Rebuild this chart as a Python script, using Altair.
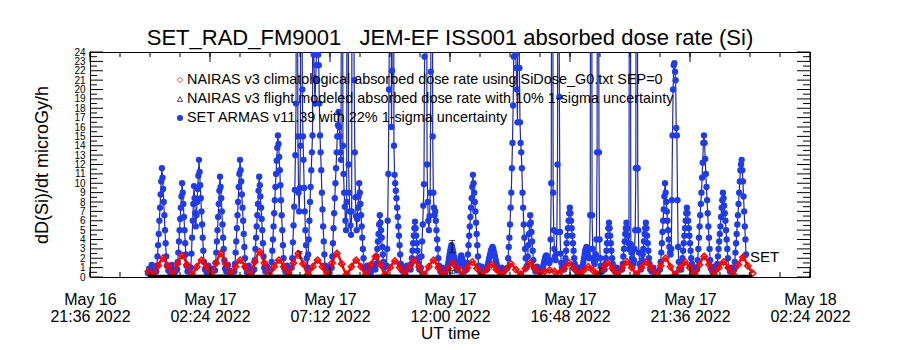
import json
import altair as alt
import pandas as pd

FONT = "Liberation Sans"

TITLE = "SET_RAD_FM9001\u00a0\u00a0 JEM-EF ISS001 absorbed dose rate (Si)"
Y_TITLE = "dD(Si)/dt microGy/h"
X_TITLE = "UT time"

# x axis: minutes since 2022-05-17 00:00 UT
x_tick_minutes = [-144, 144, 432, 720, 1008, 1296, 1584]
x_tick_labels = [["May 16", "21:36 2022"], ["May 17", "02:24 2022"], ["May 17", "07:12 2022"],
                 ["May 17", "12:00 2022"], ["May 17", "16:48 2022"], ["May 17", "21:36 2022"],
                 ["May 18", "02:24 2022"]]
x_minor_ticks = [-144 + 72 * i for i in range(25)]
y_ticks = list(range(25))
y_half_ticks = [i + 0.5 for i in range(24)]

legend_labels = [
    "NAIRAS v3 climatological absorbed dose rate using SiDose_G0.txt SEP=0",
    "NAIRAS v3 flight modeled absorbed dose rate with 10% 1-sigma uncertainty",
    "SET ARMAS v11.39 with 22% 1-sigma uncertainty",
]

# SET ARMAS measured dose rate: (start minute, cadence minutes, values)
blue_segments = [
    (-5, 3, [0.4, 0.9, 0.6, 1.3, 0.7, 0.5]),
    (15, 1.5, [0.6, 1.2, 2.2, 3.4, 4.6, 6.0, 7.4, 8.8, 10.2, 11.6, 10.6, 9.4, 8.0, 6.6, 5.0, 3.6, 2.2, 1.2]),
    (44, 4, [0.7, 0.5, 1.3, 0.8, 0.5]),
    (65, 1.5, [0.8, 1.6, 2.6, 3.8, 5.0, 6.2, 7.4, 8.6, 10.0, 9.0, 7.8, 6.4, 5.0, 3.6, 2.4, 1.2]),
    (90, 3, [0.6, 1.1]),
    (98, 1.5, [1.0, 2.5, 4.2, 6.0, 7.8, 9.7, 8.4, 6.8, 5.4, 6.6, 8.0, 9.4, 10.8, 12.5, 11.2, 9.8, 8.4, 7.0, 5.6, 4.2, 2.8, 1.6]),
    (132, 4, [0.8, 0.5, 1.2, 0.6, 0.9]),
    (156, 1.5, [0.7, 1.5, 2.6, 3.8, 5.0, 6.4, 7.8, 9.2, 10.7, 9.6, 8.4, 7.0, 5.6, 4.2, 3.0, 1.8, 0.9]),
    (183, 4, [0.6, 1.3, 0.7, 0.5]),
    (202.5, 1.5, [0.6, 1.4, 2.6, 3.8, 5.2, 6.6, 8.0, 9.6, 11.0, 12.5, 11.4, 10.2, 8.8, 7.4, 6.0, 4.6, 3.2, 2.0, 1.0]),
    (233, 4, [0.5, 1.2, 0.7, 0.5]),
    (250, 1.5, [0.8, 1.8, 3.0, 4.2, 5.4, 6.6, 7.8, 9.2, 10.7, 9.8, 8.6, 7.4, 6.2, 5.0, 3.6, 2.2, 1.0]),
    (277, 4, [0.6, 1.1, 0.7]),
    (290.5, 1.5, [0.8, 1.6, 2.8, 4.0, 5.4, 6.8, 8.2, 9.6, 11.0, 12.4, 13.8, 15.1, 14.2, 12.8, 11.4, 9.8, 8.2, 6.6, 5.0, 3.4, 2.0, 1.0]),
    (325, 4, [0.6, 1.2, 0.5]),
    (340, 1.5, [1.0, 2.0, 3.7, 5.5, 7.5, 9.3, 13.0, 18.5, 60, 40, 15.0, 9.0, 7.0, 9.5, 14.0, 60, 60, 20.0, 15.0, 12.5, 9.5, 7.0, 5.0, 3.4, 2.0, 1.0]),
    (378, 1.5, [1.0, 2.4, 4.0, 6.0, 8.0, 9.6, 11.4, 13.3, 15.1, 60, 23.7, 21.2, 18.5, 21.0, 22.6, 60, 60, 23.7, 22.6, 18.5, 15.1, 13.3, 11.4, 9.0, 7.2, 5.4, 3.8, 2.4, 1.2]),
    (423, 4, [0.6, 1.1, 0.5]),
    (436, 1.5, [1.0, 2.2, 3.6, 5.2, 6.8, 8.4, 10.0, 11.6, 13.3, 15.0, 16.2, 17.6, 16.0, 15.0, 13.3, 12.5, 60, 60, 14.0, 11.0,
                9.0, 7.5, 6.0, 5.0, 8.0, 60, 60, 12.0, 9.0, 7.0, 5.5, 4.5, 7.0, 60, 60, 40, 21.0, 13.3, 8.5, 6.5,
                5.0, 6.2, 7.4, 8.6, 10.0, 9.0, 7.8, 6.6, 5.4, 4.2, 3.0, 2.0, 1.0]),
    (518, 4, [0.6, 1.2, 0.7, 0.5, 0.9]),
    (541, 1.5, [0.8, 1.4, 2.2, 3.0, 3.8, 4.6, 5.6, 6.6, 5.8, 5.0, 4.2, 3.2, 2.4, 1.6, 1.0]),
    (567.5, 1.5, [1.2, 3.0, 6.0, 11.0, 20.0, 30.0, 60, 60, 16.0, 22.0, 60, 60, 14.0, 10.9, 10.0, 9.2, 8.4, 7.4, 6.4, 5.4, 4.4, 3.4, 2.4, 1.4]),
    (605, 4, [0.7, 1.0, 0.5, 1.2]),
    (625.5, 1.5, [0.8, 1.4, 2.0, 2.8, 3.6, 4.4, 5.2, 5.9, 5.2, 4.4, 3.6, 2.8, 2.0, 1.4, 0.8]),
    (650, 1.5, [1.0, 2.2, 3.8, 5.6, 7.6, 9.9, 23.5, 60, 60, 40, 12.0, 8.0, 6.0, 5.0, 6.5, 9.0, 21.9, 60, 60, 15.0,
                9.0, 7.4, 6.6, 7.0, 6.0, 5.0, 4.0, 3.0, 2.0, 1.2]),
    (697, 4, [0.6, 1.0, 0.7, 0.5]),
    (713, 1.5, [0.8, 1.2, 1.6, 2.0, 2.4, 2.8, 3.1, 3.4, 3.2, 2.9, 2.6, 2.2, 1.8, 1.5, 1.2, 0.9, 0.7]),
    (739, 2, [0.8, 1.2, 1.6, 2.0, 2.3, 2.0, 1.7, 1.4, 1.0, 0.7]),
    (760, 1.5, [0.8, 1.5, 2.4, 3.4, 4.4, 5.4, 6.4, 7.4, 8.4, 9.6, 10.9, 10.0, 9.0, 8.0, 7.0, 5.8, 4.6, 3.4, 2.2, 1.2]),
    (792, 4, [0.6, 1.1, 0.7]),
    (808, 2, [0.8, 1.2, 1.6, 2.0, 2.4, 2.8, 3.0, 3.2, 3.0, 2.6, 2.2, 1.8, 1.4, 1.0, 0.7]),
    (840, 4, [0.6, 1.0, 0.5, 0.8]),
    (858, 1.5, [1.0, 2.0, 3.2, 4.2, 5.6, 7.4, 9.0, 11.6, 14.3, 18.3, 23.5, 60, 60, 23.7, 22.3, 20.0, 16.5, 60, 60, 22.3,
                16.5, 14.3, 13.3, 11.6, 9.0, 7.4, 5.6, 4.2, 3.0, 2.0, 1.0]),
    (905, 1.5, [1.2, 2.2, 3.4, 4.6, 5.6, 6.6, 5.8, 4.8, 3.8, 2.8, 1.8, 1.0]),
    (925, 4, [0.6, 1.1, 0.7, 0.5]),
    (942, 1.5, [0.8, 1.1, 1.4, 1.7, 2.0, 2.2, 2.3, 2.2, 2.0, 1.8, 1.6, 1.5, 1.8, 4.0, 10.0, 60, 60, 9.0, 5.0, 3.0,
                2.2, 1.8, 2.5, 4.8, 12.0, 60, 60, 19.2, 4.8, 2.5, 1.5, 1.0]),
    (994, 1.5, [0.8, 1.4, 2.0, 2.8, 3.6, 4.4, 5.2, 6.0, 6.8, 7.4, 6.8, 6.0, 5.2, 4.4, 3.6, 2.8, 2.0, 1.4, 0.8]),
    (1025, 4, [0.6, 1.0, 0.5]),
    (1037, 1.5, [0.8, 1.2, 1.6, 2.0, 2.4, 2.8, 3.0, 3.2, 3.0, 2.6, 2.2, 2.0, 3.0, 6.6, 60, 60, 6.6, 3.0, 2.0, 1.6,
                 1.4, 1.8, 2.4, 4.0, 13.3, 60, 60, 13.3, 4.0, 2.0, 1.2]),
    (1085, 4, [0.6, 0.9]),
    (1091, 1.5, [0.8, 1.4, 2.0, 2.8, 3.6, 4.4, 5.2, 5.8, 5.2, 4.4, 3.6, 2.8, 2.0, 1.4, 0.8]),
    (1116, 4, [0.6, 1.0, 0.5]),
    (1133, 1.5, [0.8, 1.4, 2.2, 3.0, 3.8, 4.6, 5.2, 5.8, 5.2, 4.4, 3.6, 3.0, 60, 60, 3.5, 2.6, 2.0, 1.6, 1.4, 1.8,
                 3.0, 5.0, 11.6, 60, 60, 11.6, 5.0, 2.6, 1.4]),
    (1178, 1.5, [0.8, 1.2, 1.8, 2.4, 3.0, 3.8, 4.6, 5.2, 5.8, 5.2, 4.4, 3.6, 2.8, 2.0, 1.4, 0.8]),
    (1204, 4, [0.6, 1.0, 0.6]),
    (1224, 1.5, [0.8, 1.6, 2.6, 3.6, 4.8, 6.0, 7.2, 8.6, 10.0, 9.0, 8.0, 7.0, 6.0, 5.0, 4.0, 3.2, 2.6, 2.4, 3.0, 8.2,
                 15.1, 20.0, 22.6, 22.8, 21.9, 21.0, 15.9, 15.1, 8.2, 3.2, 1.6, 0.8]),
    (1275, 1.5, [0.8, 1.4, 2.0, 2.8, 3.6, 4.4, 5.2, 6.0, 6.8, 7.4, 6.8, 6.0, 5.2, 4.4, 3.6, 2.8, 2.0, 1.4, 0.8]),
    (1306, 4, [0.6, 1.0]),
    (1313, 1.5, [0.8, 1.8, 3.0, 4.2, 5.4, 6.6, 7.8, 9.0, 10.6, 12.2, 14.3, 15.1, 14.3, 12.6, 11.0, 9.6, 8.2, 6.8, 5.4, 4.2,
                 3.0, 1.8, 0.9]),
    (1350, 4, [0.6, 1.1]),
    (1360, 1.5, [0.8, 1.4, 2.2, 3.0, 3.8, 4.6, 5.4, 6.4, 7.4, 8.2, 9.0, 8.4, 7.6, 6.8, 6.0, 5.0, 4.0, 3.0, 2.0, 1.0]),
    (1392, 4, [0.6, 1.0]),
    (1402, 1.5, [0.8, 1.6, 2.6, 3.6, 4.6, 5.6, 6.6, 7.8, 9.0, 10.2, 11.4, 12.0, 12.5, 11.4, 10.2, 8.6, 7.0, 5.4, 4.0, 2.4]),
]

# NAIRAS climatological dose rate (trough, rise, peak, fall per half orbit)
red_start, red_step = -3.8, 11.6
red_vals = [0.6,
            0.3, 1.2, 2.0, 1.2,   0.3, 1.4, 2.3, 1.3,   0.3, 1.1, 1.8, 1.1,   0.3, 1.5, 2.5, 1.4,
            0.3, 1.1, 1.8, 1.1,   0.3, 1.6, 2.7, 1.5,   0.3, 1.1, 1.8, 1.1,   0.3, 1.5, 2.5, 1.4,
            0.3, 1.1, 1.8, 1.1,   0.3, 1.5, 2.5, 1.4,   0.3, 1.1, 1.8, 1.1,   0.3, 1.3, 2.2, 1.3,
            0.3, 1.0, 1.7, 1.0,   0.3, 1.1, 1.8, 1.1,   0.3, 1.1, 1.8, 1.0,   0.3, 0.9, 1.5, 0.9,
            0.3, 1.0, 1.6, 0.9,   0.3, 0.8, 1.3, 0.8,   0.3, 0.8, 1.4, 0.8,   0.3, 0.9, 1.5, 0.9,
            0.4, 0.6, 0.75, 0.6,  0.4, 0.9, 1.5, 0.9,   0.3, 0.7, 1.1, 0.7,   0.3, 0.9, 1.5, 0.9,
            0.3, 1.0, 1.6, 1.0,   0.3, 1.0, 1.6, 1.0,   0.3, 1.2, 2.0, 1.1,   0.3, 1.0, 1.6, 1.0,
            0.3, 1.3, 2.2, 1.3,   0.3, 1.0, 1.6, 1.0,   0.3, 1.3, 2.1, 1.2,
            0.4]

# NAIRAS flight-modeled dose rate (near zero along the flight)
black_start, black_step = -5, 58
black_vals = [0.08, 0.09, 0.08, 0.1, 0.09, 0.08, 0.1, 0.09, 0.08, 0.09, 0.1, 0.08, 0.09,
              0.08, 0.1, 0.09, 0.08, 0.09, 0.1, 0.08, 0.09, 0.08, 0.1, 0.09, 0.08, 0.09]
err_t = [360, 725, 725, 1080]
err_lo = [2.0, 2.6, 0.4, 0.4]
err_hi = [2.7, 3.9, 0.7, 0.95]

# ---- build tables ----
rows = []
for start, step, vals in blue_segments:
    for i, v in enumerate(vals):
        rows.append({"t": start + step * i, "v": v})
blue = pd.DataFrame(rows)
red = pd.DataFrame({"t": [red_start + red_step * i for i in range(len(red_vals))], "v": red_vals})
black = pd.DataFrame({"t": [black_start + black_step * i for i in range(len(black_vals))], "v": black_vals})
err = pd.DataFrame({"t": err_t, "v": err_lo, "hi": err_hi})
last = blue.iloc[[-1]]

W, H = 720, 225
xs = alt.Scale(domain=[-144, 1584], nice=False, zero=False)
ys = alt.Scale(domain=[0, 24], nice=False, zero=False)

label_expr = ""
for m, lab in zip(x_tick_minutes, x_tick_labels):
    label_expr += f"datum.value == {m} ? {json.dumps(lab)} : "
label_expr += "''"

x_axis = alt.Axis(values=x_tick_minutes, labelExpr=label_expr, grid=False, ticks=False, domain=False,
                  labelFont=FONT, labelFontSize=16, labelColor="black", labelPadding=14,
                  labelBaseline="top", labelLineHeight=17.5, labelFlush=False, labelOverlap=False,
                  titleFont=FONT, titleFontSize=17, titleFontWeight="normal",
                  titleColor="black", titleY=56, titleBaseline="middle")
y_axis = alt.Axis(values=y_ticks, grid=False, ticks=False, domain=False, labelFont=FONT,
                  labelFontSize=10, labelColor="black", labelPadding=5, labelOverlap=False,
                  labelBaseline="middle",
                  titleFont=FONT, titleFontSize=18, titleFontWeight="normal",
                  titleColor="black", titleX=-48, titleY=H / 2, titleAngle=270,
                  titleAlign="center", titleBaseline="middle")


def X(field="t"):
    return alt.X(f"{field}:Q", scale=xs, axis=x_axis, title=X_TITLE)


def Y(field="v"):
    return alt.Y(f"{field}:Q", scale=ys, axis=y_axis, title=Y_TITLE)


BLUE_LINE = "#1f2aa8"
BLUE_DOT = "#1f3ce8"
RED = "#ff0000"

blue_line = alt.Chart(blue).mark_line(color=BLUE_LINE, strokeWidth=1.2, clip=True).encode(x=X(), y=Y())
blue_pts = alt.Chart(blue).mark_point(shape="circle", filled=True, color=BLUE_DOT, size=40,
                                      opacity=1, clip=True).encode(x=X(), y=Y())
red_line = alt.Chart(red).mark_line(color=RED, strokeWidth=2.5, interpolate="monotone", clip=True).encode(x=X(), y=Y())
red_pts = alt.Chart(red).mark_point(shape="diamond", filled=False, color=RED, size=40, strokeWidth=1.5,
                                    opacity=1, clip=True).encode(x=X(), y=Y())
black_line = alt.Chart(black).mark_line(color="black", strokeWidth=3, clip=True).encode(x=X(), y=Y())
err_rule = alt.Chart(err).mark_rule(color="black", strokeWidth=1).encode(x=X(), y=Y(), y2="hi:Q")
err_lo_cap = alt.Chart(err).mark_tick(color="black", orient="horizontal", size=6, thickness=1).encode(x=X(), y=Y())
err_hi_cap = alt.Chart(err).mark_tick(color="black", orient="horizontal", size=6, thickness=1).encode(x=X(), y=Y("hi"))
set_label = alt.Chart(last).mark_text(text="SET", align="left", baseline="middle", dx=4, dy=2,
                                      font=FONT, fontSize=15, color="black").encode(x=X(), y=Y())

# inward tick marks on all four sides
xt = pd.DataFrame({"t": x_minor_ticks})
xmaj = pd.DataFrame({"t": x_tick_minutes})
yt = pd.DataFrame({"v": y_ticks})
yh = pd.DataFrame({"v": y_half_ticks})
tick_layers = [
    alt.Chart(xt).mark_rule(color="black").encode(x=X(), y=alt.value(0), y2=alt.value(5)),
    alt.Chart(xt).mark_rule(color="black").encode(x=X(), y=alt.value(H), y2=alt.value(H - 5)),
    alt.Chart(xmaj).mark_rule(color="black").encode(x=X(), y=alt.value(0), y2=alt.value(10)),
    alt.Chart(xmaj).mark_rule(color="black").encode(x=X(), y=alt.value(H), y2=alt.value(H - 10)),
    alt.Chart(yt).mark_rule(color="black").encode(y=Y(), x=alt.value(0), x2=alt.value(13)),
    alt.Chart(yh).mark_rule(color="black").encode(y=Y(), x=alt.value(0), x2=alt.value(7)),
    alt.Chart(yt).mark_rule(color="black").encode(y=Y(), x=alt.value(W), x2=alt.value(W - 13)),
    alt.Chart(yh).mark_rule(color="black").encode(y=Y(), x=alt.value(W), x2=alt.value(W - 7)),
]

# in-plot legend and chart title (annotation text)
one = pd.DataFrame({"a": [0]})
leg_rows = [28, 47, 66]
legend_layers = [
    alt.Chart(one).mark_point(shape="diamond", filled=False, color=RED, size=30, strokeWidth=1).encode(
        x=alt.value(90), y=alt.value(leg_rows[0])),
    alt.Chart(one).mark_point(shape="triangle-up", filled=False, color="black", size=30, strokeWidth=1).encode(
        x=alt.value(90), y=alt.value(leg_rows[1])),
    alt.Chart(one).mark_point(shape="circle", filled=True, color=BLUE_DOT, size=36, opacity=1).encode(
        x=alt.value(90), y=alt.value(leg_rows[2])),
]
for i, lab in enumerate(legend_labels):
    legend_layers.append(
        alt.Chart(one).mark_text(text=lab, align="left", baseline="middle", font=FONT, fontSize=14.4,
                                 color="black").encode(x=alt.value(97), y=alt.value(leg_rows[i])))
title_layer = alt.Chart(one).mark_text(text=TITLE, align="center", baseline="middle", font=FONT,
                                       fontSize=22, color="black").encode(x=alt.value(W / 2), y=alt.value(-14))

chart = alt.layer(
    blue_line, blue_pts, red_line, red_pts, black_line, err_rule, err_lo_cap, err_hi_cap,
    set_label, *tick_layers, *legend_layers, title_layer
).properties(
    width=W, height=H,
    background="white",
    autosize=alt.AutoSizeParams(type="none"),
    padding={"left": 90, "top": 52, "right": 90, "bottom": 73},
).configure_view(stroke="black", strokeWidth=1)

chart.save("out.html", embed_options={"renderer": "svg", "actions": False})
